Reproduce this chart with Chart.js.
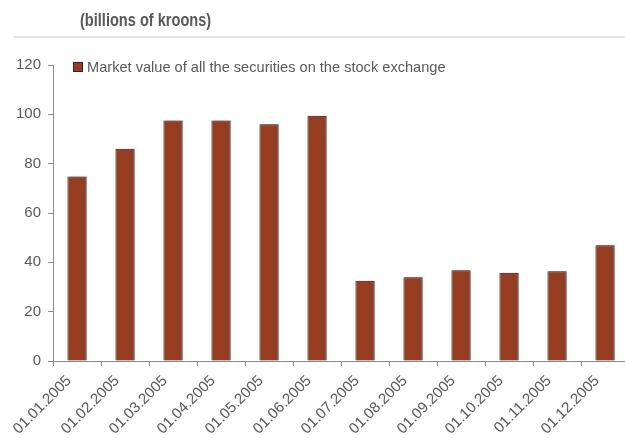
<!DOCTYPE html>
<html>
<head>
<meta charset="utf-8">
<script src="https://cdn.jsdelivr.net/npm/chart.js@4/dist/chart.umd.min.js"></script>
<style>
  html, body { margin: 0; padding: 0; width: 625px; height: 441px; overflow: hidden; background: #fff; }
  #wrap { position: relative; width: 625px; height: 441px; overflow: hidden; }
  #heading {
    position: absolute; left: 80px; top: 9px;
    font-family: "Liberation Sans", Arial, sans-serif;
    font-weight: bold; font-size: 18px; line-height: 22px; color: #595959;
    white-space: nowrap; transform: scaleX(0.81); transform-origin: 0 0;
  }
  #rule { position: absolute; left: 13px; top: 36px; width: 620px; height: 2px; background: #e3e3e3; }
  #box { position: absolute; left: 0; top: 0; width: 632px; height: 441px; }
</style>
</head>
<body>
<div id="wrap">
  <div id="box"><canvas id="chart" width="632" height="441"></canvas></div>
  <div id="heading">(billions of kroons)</div>
  <div id="rule"></div>
</div>
<script>
// Month dates and market values (billions of kroons)
const dates = ["01.01.2005", "01.02.2005", "01.03.2005", "01.04.2005", "01.05.2005", "01.06.2005",
               "01.07.2005", "01.08.2005", "01.09.2005", "01.10.2005", "01.11.2005", "01.12.2005"];
const marketValue = [74.8, 86.0, 97.5, 97.5, 96.0, 99.4, 32.5, 34.0, 36.8, 35.8, 36.4, 46.9];
const seriesName = "Market value of all the securities on the stock exchange";
const yTicks = [0, 20, 40, 60, 80, 100, 120];

const barFill = "#963e24";
const barEdge = "#33231e";
const textGrey = "#595959";
const axisGrey = "#8a8a8a";

// Soft grey shadow behind the bars
const barShadow = {
  id: "barShadow",
  beforeDatasetDraw(chart) {
    const ctx = chart.ctx;
    ctx.save();
    ctx.shadowColor = "rgba(0,0,0,0.28)";
    ctx.shadowBlur = 1;
    ctx.shadowOffsetX = 1.5;
    ctx.shadowOffsetY = 0;
  },
  afterDatasetDraw(chart) {
    chart.ctx.restore();
  }
};

// Legend drawn inside the plot, top left
const innerLegend = {
  id: "innerLegend",
  afterDraw(chart) {
    const ctx = chart.ctx;
    const ds = chart.data.datasets[0];
    const x = chart.chartArea.left + 20, y = chart.chartArea.top + 2;
    ctx.save();
    ctx.fillStyle = ds.backgroundColor;
    ctx.fillRect(x, y - 5, 10, 10);
    ctx.strokeStyle = barEdge;
    ctx.lineWidth = 1;
    ctx.strokeRect(x + 0.5, y - 4.5, 9, 9);
    ctx.fillStyle = textGrey;
    ctx.font = "14.6px 'Liberation Sans', Arial, sans-serif";
    ctx.textBaseline = "middle";
    ctx.textAlign = "left";
    ctx.fillText(ds.label, x + 14, y + 1);
    ctx.restore();
  }
};

new Chart(document.getElementById("chart"), {
  type: "bar",
  data: {
    labels: dates,
    datasets: [{
      label: seriesName,
      data: marketValue,
      backgroundColor: barFill,
      borderColor: barEdge,
      borderWidth: 1,
      barPercentage: 0.4,
      categoryPercentage: 1.0
    }]
  },
  options: {
    responsive: false,
    animation: false,
    events: [],
    layout: { padding: { top: 65, left: 16, right: 3, bottom: 0 } },
    plugins: {
      legend: { display: false },
      title: { display: false },
      tooltip: { enabled: false }
    },
    scales: {
      x: {
        offset: true,
        grid: { display: true, drawOnChartArea: false, drawTicks: true, tickLength: 5, color: axisGrey, offset: true },
        border: { display: true, color: axisGrey, width: 1 },
        ticks: {
          color: textGrey,
          font: { family: "'Liberation Sans', Arial, sans-serif", size: 15 },
          minRotation: 45, maxRotation: 45, autoSkip: false, padding: 6,
          labelOffset: -8
        },
        afterFit(scale) { scale.height = 80; }
      },
      y: {
        min: 0, max: 120,
        afterBuildTicks(scale) { scale.ticks = yTicks.map(v => ({ value: v })); },
        grid: { display: true, drawOnChartArea: false, drawTicks: true, tickLength: 5, color: axisGrey },
        border: { display: true, color: axisGrey, width: 1 },
        ticks: {
          color: textGrey,
          font: { family: "'Liberation Sans', Arial, sans-serif", size: 15 },
          padding: 7
        },
        afterFit(scale) { scale.width = 37; }
      }
    }
  },
  plugins: [barShadow, innerLegend]
});
</script>
</body>
</html>
